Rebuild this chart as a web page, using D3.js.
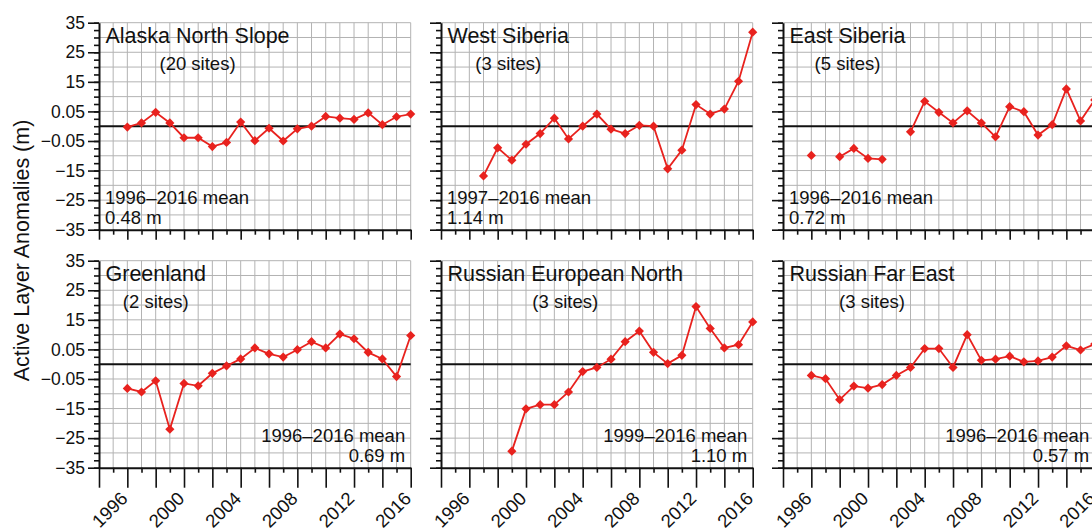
<!DOCTYPE html>
<html>
<head>
<meta charset="utf-8">
<script src="https://cdn.jsdelivr.net/npm/d3@7"></script>
<style>
  body { margin: 0; background: #fff; }
  svg { display: block; font-family: "Liberation Sans", Arial, Helvetica, sans-serif; }
</style>
</head>
<body>
<svg id="chart" width="1092" height="530"></svg>
<script>
// Active layer thickness anomalies (cm) by region, 1996–2016; null = no observation
const years = d3.range(1996, 2017);

const alaskaNorthSlope = [-0.3, 1.1, 4.7, 1.1, -3.9, -3.9, -6.9, -5.5, 1.4, -4.9, -0.7,
                          -5.0, -0.9, 0.0, 3.3, 2.7, 2.3, 4.5, 0.5, 3.2, 4.1];
const westSiberia = [null, -16.8, -7.3, -11.5, -6.1, -2.5, 2.7, -4.3, 0.0, 4.1, -1.0,
                     -2.5, 0.3, 0.0, -14.4, -8.1, 7.3, 4.1, 5.8, 15.2, 31.8];
const eastSiberia = [-9.9, null, -10.3, -7.5, -10.9, -11.2, null, -1.9, 8.4, 4.7, 1.1,
                     5.2, 1.1, -3.6, 6.6, 4.9, -3.0, 0.5, 12.6, 1.8, 8.9];
const greenland = [-8.2, -9.4, -5.6, -22.0, -6.5, -7.3, -3.1, -0.6, 1.8, 5.5, 3.5,
                   2.4, 4.9, 7.6, 5.5, 10.2, 8.6, 4.0, 1.8, -4.2, 9.7];
const russianEuropeanNorth = [null, null, null, -29.4, -15.1, -13.7, -13.7, -9.4, -2.5, -1.1, 1.7,
                              7.6, 11.2, 4.0, 0.2, 3.0, 19.5, 12.1, 5.5, 6.6, 14.3];
const russianFarEast = [-3.8, -4.9, -12.0, -7.4, -8.1, -6.9, -3.8, -1.1, 5.3, 5.3, -1.1,
                        10.0, 1.3, 1.7, 2.7, 0.8, 1.1, 2.4, 6.2, 4.8, 6.8];

const regionNames = ["Alaska North Slope", "West Siberia", "East Siberia",
                     "Greenland", "Russian European North", "Russian Far East"];
const siteCounts = ["(20 sites)", "(3 sites)", "(5 sites)", "(2 sites)", "(3 sites)", "(3 sites)"];
const meanPeriods = ["1996–2016 mean", "1997–2016 mean", "1996–2016 mean",
                     "1996–2016 mean", "1999–2016 mean", "1996–2016 mean"];
const meanValues = ["0.48 m", "1.14 m", "0.72 m", "0.69 m", "1.10 m", "0.57 m"];
const seriesValues = [alaskaNorthSlope, westSiberia, eastSiberia,
                      greenland, russianEuropeanNorth, russianFarEast];

// Axis ticks and their printed labels
const yTickValues = [35, 25, 15, 5, -5, -15, -25, -35];
const yTickLabels = ["35", "25", "15", "0.05", "\u22120.05", "\u221215", "\u221225", "\u221235"];
const xLabelYears = [1996, 2000, 2004, 2008, 2012, 2016];
const yAxisTitle = "Active Layer Anomalies (m)";

// Layout
const colLeft = [99, 441, 783];
const rowTop = [22.7, 260.7];
const pw = 311.7, ph = 207;
const red = "#e8221e";

const svg = d3.select("#chart");

const x = d3.scaleLinear().domain([1994, 2016]).range([0, pw]);
const y = d3.scaleLinear().domain([-35, 35]).range([ph, 0]);

const panels = regionNames.map((name, i) => ({
  name,
  sites: siteCounts[i],
  period: meanPeriods[i],
  mean: meanValues[i],
  points: years.map((yr, k) => ({ year: yr, value: seriesValues[i][k] })),
  col: i % 3,
  row: Math.floor(i / 3)
}));

panels.forEach(p => {
  const g = svg.append("g")
    .attr("transform", `translate(${colLeft[p.col]},${rowTop[p.row]})`);

  // grid
  const grid = g.append("g").attr("stroke", "#b3b3b3").attr("stroke-width", 1);
  grid.selectAll("line.v").data(d3.range(1995, 2017)).join("line")
    .attr("x1", d => x(d)).attr("x2", d => x(d))
    .attr("y1", 0).attr("y2", ph);
  grid.selectAll("line.h").data(d3.range(-30, 36, 5).filter(v => v !== 0)).join("line")
    .attr("x1", 0).attr("x2", pw)
    .attr("y1", d => y(d)).attr("y2", d => y(d));

  // zero line
  g.append("line")
    .attr("x1", 0).attr("x2", pw)
    .attr("y1", y(0)).attr("y2", y(0))
    .attr("stroke", "#111").attr("stroke-width", 2);

  // y axis: minor and major ticks
  const yMinor = g.append("g").call(
    d3.axisLeft(y).tickValues(d3.range(-35, 35.1, 2.5)).tickSize(5).tickFormat(""));
  yMinor.select(".domain").remove();
  const yMajor = g.append("g").call(
    d3.axisLeft(y).tickValues(yTickValues).tickSize(11).tickSizeOuter(0).tickPadding(3)
      .tickFormat((d, i) => p.col === 0 ? yTickLabels[i] : ""));
  [yMinor, yMajor].forEach(a => {
    a.selectAll("line").attr("stroke", "#111").attr("stroke-width", 1.6);
    a.selectAll(".domain").attr("stroke", "#111").attr("stroke-width", 2);
    a.selectAll("text").attr("font-size", 17.5).attr("fill", "#111")
      .attr("font-family", "Liberation Sans, Arial, sans-serif");
  });

  // x axis: odd-year short ticks, even-year long ticks
  const longTick = p.row === 1 ? 20 : 10;
  const xMinor = g.append("g").attr("transform", `translate(0,${ph})`).call(
    d3.axisBottom(x).tickValues(d3.range(1995, 2017, 2)).tickSize(5).tickFormat(""));
  xMinor.select(".domain").remove();
  const xMajor = g.append("g").attr("transform", `translate(0,${ph})`).call(
    d3.axisBottom(x).tickValues(d3.range(1994, 2017, 2)).tickSize(longTick).tickSizeOuter(0)
      .tickFormat(d => (p.row === 1 && xLabelYears.includes(d)) ? String(d) : ""));
  [xMinor, xMajor].forEach(a => {
    a.selectAll("line").attr("stroke", "#111").attr("stroke-width", 1.6);
    a.selectAll(".domain").attr("stroke", "#111").attr("stroke-width", 2);
  });
  xMajor.selectAll("text")
    .attr("font-size", 18.5).attr("fill", "#111")
    .attr("font-family", "Liberation Sans, Arial, sans-serif")
    .attr("x", 0).attr("y", 0).attr("dy", null)
    .attr("text-anchor", "end")
    .attr("transform", "translate(1,32) rotate(-45)");

  // series line and diamond markers
  const line = d3.line()
    .defined(d => d.value !== null)
    .x(d => x(d.year)).y(d => y(d.value));
  g.append("path")
    .datum(p.points)
    .attr("d", line)
    .attr("fill", "none").attr("stroke", red).attr("stroke-width", 1.8);
  g.selectAll("path.mk").data(p.points.filter(d => d.value !== null)).join("path")
    .attr("class", "mk")
    .attr("d", d3.symbol().type(d3.symbolDiamond2).size(54))
    .attr("transform", d => `translate(${x(d.year)},${y(d.value)})`)
    .attr("fill", red);

  // region title and site count
  const title = g.append("text")
    .attr("x", 6.5).attr("y", 20.5)
    .attr("font-size", 21.5).attr("fill", "#111")
    .text(p.name);
  const tw = title.node().getComputedTextLength();
  g.append("text")
    .attr("x", 6.5 + tw / 2).attr("y", 47)
    .attr("text-anchor", "middle")
    .attr("font-size", 18.5).attr("fill", "#111")
    .text(p.sites);

  // mean annotation
  const meanG = g.append("g")
    .attr("font-size", 18.5).attr("fill", "#111")
    .attr("text-anchor", p.row === 0 ? "start" : "end");
  const mx = p.row === 0 ? 6 : pw - 5.5;
  meanG.append("text").attr("x", mx).attr("y", 181).text(p.period);
  meanG.append("text").attr("x", mx).attr("y", 201).text(p.mean);
});

// shared y axis title
svg.append("text")
  .attr("transform", "translate(28.5,250.5) rotate(-90)")
  .attr("text-anchor", "middle")
  .attr("font-size", 21.5).attr("fill", "#111")
  .text(yAxisTitle);
</script>
</body>
</html>
